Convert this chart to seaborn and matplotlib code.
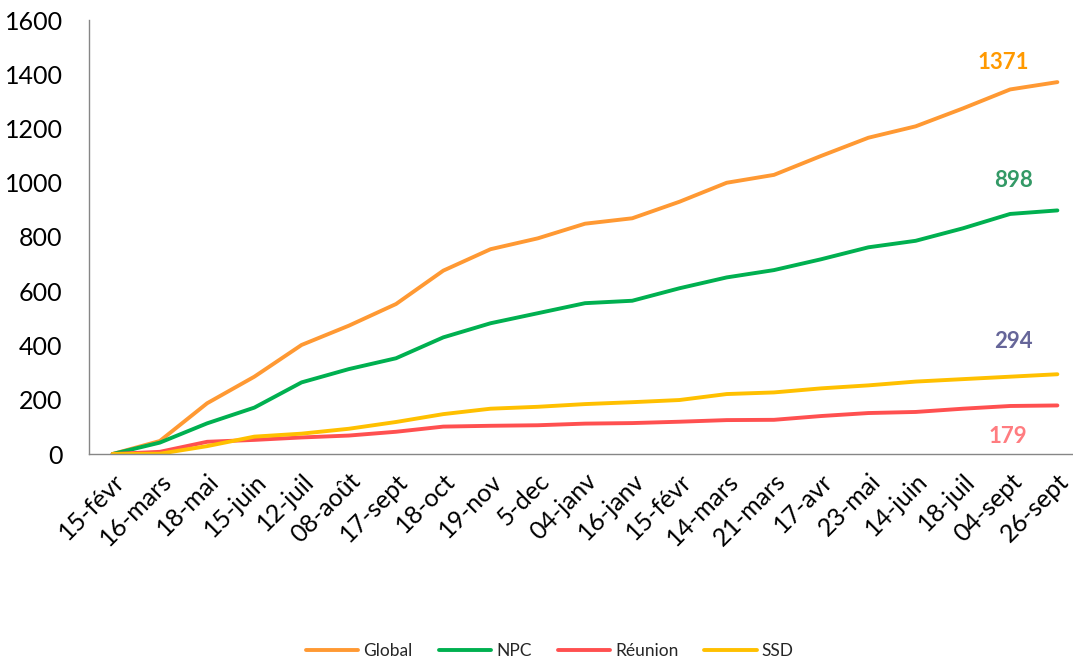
import numpy as np
import pandas as pd
import matplotlib
matplotlib.use("Agg")
import matplotlib.pyplot as plt
import seaborn as sns

# dates (x categories)
dates = ["15-févr", "16-mars", "18-mai", "15-juin", "12-juil", "08-août", "17-sept",
         "18-oct", "19-nov", "5-dec", "04-janv", "16-janv", "15-févr", "14-mars",
         "21-mars", "17-avr", "23-mai", "14-juin", "18-juil", "04-sept", "26-sept"]

# cumulative counts
global_vals = [0, 48, 187, 285, 402, 473, 553, 676, 755, 795, 849, 869, 930, 1000,
               1029, 1099, 1166, 1208, 1274, 1344, 1371]
npc_vals = [0, 42, 113, 171, 264, 313, 353, 430, 482, 519, 556, 565, 611, 651,
            678, 718, 762, 786, 832, 885, 898]
reunion_vals = [0, 8, 45, 52, 61, 68, 82, 101, 104, 106, 112, 114, 119, 125,
                126, 140, 151, 155, 167, 177, 179]
ssd_vals = [0, 1, 29, 64, 75, 93, 118, 147, 167, 174, 184, 191, 199, 221,
            227, 242, 253, 267, 276, 285, 294]

series_names = ["Global", "NPC", "Réunion", "SSD"]
colors = {"Global": "#FF9933", "NPC": "#00B050", "Réunion": "#FF5050", "SSD": "#FFC000"}
label_colors = {"Global": "#FF9900", "NPC": "#339966", "Réunion": "#FF7C80", "SSD": "#666699"}
# where the end labels sit (x in category units, y in data units)
label_pos = {"Global": (18.86, 1443), "NPC": (19.08, 1010), "SSD": (19.08, 414), "Réunion": (18.95, 64)}

sns.set_theme(style="white")
plt.rcParams["font.family"] = ["Lato", "DejaVu Sans"]

idx = np.arange(len(dates))
df = pd.DataFrame({
    "idx": np.tile(idx, 4),
    "value": global_vals + npc_vals + reunion_vals + ssd_vals,
    "serie": np.repeat(series_names, len(dates)),
})

fig = plt.figure(figsize=(10.73, 6.6), dpi=100)
ax = fig.add_axes([89 / 1073, 206 / 660, 992 / 1073, 434 / 660])

sns.lineplot(data=df, x="idx", y="value", hue="serie", hue_order=series_names,
             palette=colors, linewidth=2.8, ax=ax, legend=True)

ax.set_xlim(-0.5, 20.5)
ax.set_ylim(0, 1600)
ax.set_yticks(range(0, 1601, 200))
ax.set_xlabel("")
ax.set_ylabel("")

ax.set_xticks(idx)
ax.set_xticklabels(dates, rotation=45, ha="right", rotation_mode="anchor", fontsize=18)
ax.set_xticks(np.arange(-0.5, 21, 1), minor=True)
ax.tick_params(axis="x", which="major", length=0, pad=11)
ax.tick_params(axis="x", which="minor", length=5, width=1, direction="out")
ax.tick_params(axis="y", length=5, width=1, direction="out", labelsize=18, pad=14)
ax.tick_params(axis="both", which="both", color="#868686", labelcolor="black")

for s in ["top", "right"]:
    ax.spines[s].set_visible(False)
for s in ["left", "bottom"]:
    ax.spines[s].set_color("#868686")
    ax.spines[s].set_linewidth(1)

vals = {"Global": global_vals, "NPC": npc_vals, "Réunion": reunion_vals, "SSD": ssd_vals}
for name in series_names:
    x, y = label_pos[name]
    ax.text(x, y, str(vals[name][-1]), color=label_colors[name], fontsize=16,
            fontweight="bold", ha="center", va="center")

handles, labels = ax.get_legend_handles_labels()
ax.legend_.remove()
fig.legend(handles, labels, loc="center", bbox_to_anchor=(550 / 1073, 1 - 651 / 660),
           ncol=4, frameon=False, fontsize=12.5, handlelength=3.0, columnspacing=1.5,
           handletextpad=0.3)

fig.savefig("out.png", dpi=100)
